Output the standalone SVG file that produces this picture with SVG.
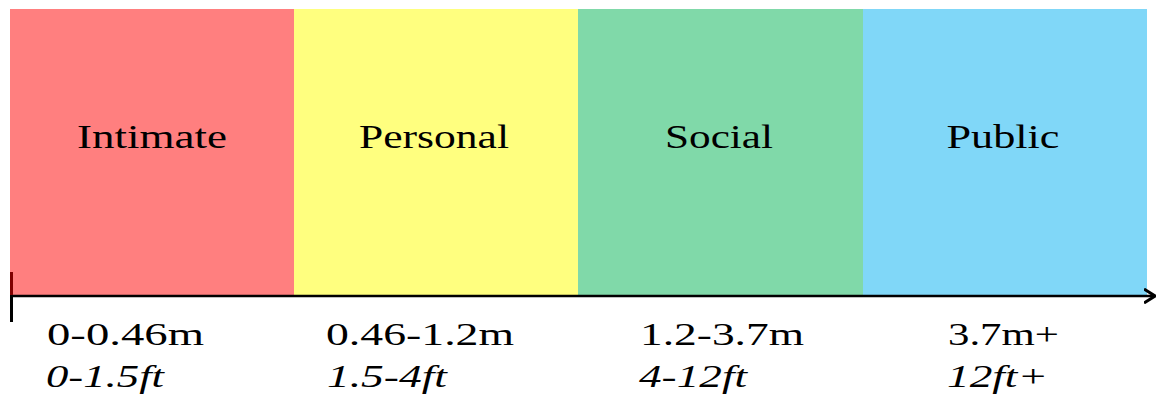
<svg xmlns="http://www.w3.org/2000/svg" width="1160" height="396" viewBox="0 0 1160 396">
  <style>
    text { fill: #000; font-family: "Liberation Serif", "Times New Roman", serif; }
    .zone-label { font-size: 33px; text-anchor: middle; }
    .m { font-size: 32px; }
    .ft { font-size: 32px; font-style: italic; }
  </style>
  <defs>
    <marker id="arrow" viewBox="0 0 12 16" refX="11" refY="8" markerWidth="12" markerHeight="16" markerUnits="userSpaceOnUse" orient="auto">
      <path d="M0,1 L11,8 L0,15" fill="none" stroke="#000" stroke-width="3"/>
    </marker>
  </defs>
  <rect width="1160" height="396" fill="#ffffff"/>

  <g id="intimate">
    <rect x="10" y="9" width="284" height="286" fill="#FF7F7F"/>
    <text class="zone-label" x="152" y="148" textLength="150" lengthAdjust="spacingAndGlyphs">Intimate</text>
    <text class="m" x="47" y="345" textLength="157" lengthAdjust="spacingAndGlyphs">0-0.46m</text>
    <text class="ft" x="46" y="387" textLength="118" lengthAdjust="spacingAndGlyphs">0-1.5ft</text>
  </g>

  <g id="personal">
    <rect x="294" y="9" width="284" height="286" fill="#FFFF7F"/>
    <text class="zone-label" x="434" y="148" textLength="150" lengthAdjust="spacingAndGlyphs">Personal</text>
    <text class="m" x="326" y="345" textLength="188" lengthAdjust="spacingAndGlyphs">0.46-1.2m</text>
    <text class="ft" x="327" y="387" textLength="120" lengthAdjust="spacingAndGlyphs">1.5-4ft</text>
  </g>

  <g id="social">
    <rect x="578" y="9" width="285" height="286" fill="#80D9A9"/>
    <text class="zone-label" x="719" y="148" textLength="108" lengthAdjust="spacingAndGlyphs">Social</text>
    <text class="m" x="640" y="345" textLength="164" lengthAdjust="spacingAndGlyphs">1.2-3.7m</text>
    <text class="ft" x="639" y="387" textLength="108" lengthAdjust="spacingAndGlyphs">4-12ft</text>
  </g>

  <g id="public">
    <rect x="863" y="9" width="284" height="286" fill="#80D7F8"/>
    <text class="zone-label" x="1003" y="148" textLength="113" lengthAdjust="spacingAndGlyphs">Public</text>
    <text class="m" x="948" y="345" textLength="111" lengthAdjust="spacingAndGlyphs">3.7m+</text>
    <text class="ft" x="947" y="387" textLength="101" lengthAdjust="spacingAndGlyphs">12ft+</text>
  </g>

  <g id="connectors">
    <line x1="10" y1="296" x2="1155" y2="296" stroke="#000" stroke-width="2.5" marker-end="url(#arrow)"/>
    <line x1="11.5" y1="272" x2="11.5" y2="295" stroke="#7F0000" stroke-width="3"/>
    <line x1="11.5" y1="295" x2="11.5" y2="322" stroke="#000" stroke-width="3"/>
  </g>
</svg>
